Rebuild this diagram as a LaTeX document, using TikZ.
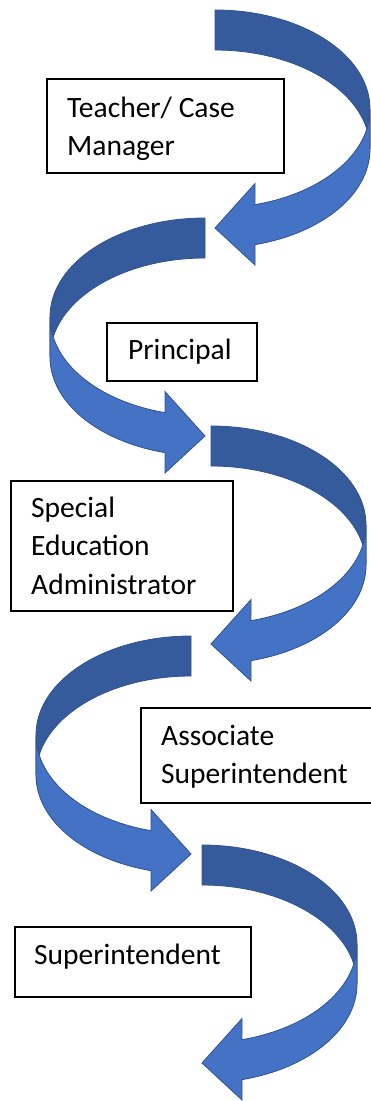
\documentclass[tikz,border=0pt]{standalone}
\usepackage{fontspec}
\setmainfont{Carlito}
\definecolor{backblue}{RGB}{54,91,157}
\definecolor{frontblue}{RGB}{68,114,196}
\definecolor{edgeblue}{RGB}{47,82,143}
\newcommand{\MyCurvArrow}[3]{%
\begin{scope}[shift={(#2,-#3)}, xscale=#1]
 \filldraw[backpart] (0pt,99pt) arc[start angle=90,end angle=0,x radius=155pt,y radius=99pt]
   -- (155pt,-40pt) arc[start angle=0,end angle=90,x radius=155pt,y radius=99pt] -- cycle;
 \filldraw[frontpart] (155pt,0pt) arc[start angle=0,end angle={-acos(40/155)},x radius=155pt,y radius=99pt]
   -- (40pt,-74.5pt) -- (0pt,-119pt) -- (40pt,-156pt)
   -- (40pt,{-40-99*sin(acos(40/155))})
   arc[start angle={-acos(40/155)},end angle=0,x radius=155pt,y radius=99pt] -- cycle;
\end{scope}}
\begin{document}
\begin{tikzpicture}[x=1pt,y=1pt,
  backpart/.style={fill=backblue,draw=edgeblue,line width=0.8pt,line join=miter},
  frontpart/.style={fill=frontblue,draw=edgeblue,line width=0.8pt,line join=miter},
  stepbox/.style={draw=black,line width=1.7pt,fill=white,anchor=north west,inner sep=0pt},
  lbl/.style={anchor=base west,inner sep=0pt,font=\fontsize{29.5}{38.5}\selectfont}]
\useasboundingbox (0,0) rectangle (371,-1101);
\MyCurvArrow{1}{215}{109}
\MyCurvArrow{-1}{205}{317}
\MyCurvArrow{1}{211}{525}
\MyCurvArrow{-1}{191}{735}
\MyCurvArrow{1}{202}{944}
\node[stepbox,minimum width=237pt,minimum height=94pt] (b1) at (46,-78) {};
\node[lbl] (t1) at (67,-117) {\parbox[t]{230pt}{Teacher/ Case\\Manager}};
\node[stepbox,minimum width=150pt,minimum height=58pt] (b2) at (106,-322) {};
\node[lbl] (t2) at (128,-359) {Principal};
\node[stepbox,minimum width=222pt,minimum height=130pt] (b3) at (10,-480) {};
\node[lbl] (t3) at (31,-517) {\parbox[t]{230pt}{Special\\Education\\Administrator}};
\node[stepbox,minimum width=240pt,minimum height=95pt] (b4) at (140,-707) {};
\node[lbl] (t4) at (161,-745) {\parbox[t]{230pt}{Associate\\Superintendent}};
\node[stepbox,minimum width=236pt,minimum height=70pt] (b5) at (14,-926) {};
\node[lbl] (t5) at (34,-964) {Superintendent};
\end{tikzpicture}
\end{document}
